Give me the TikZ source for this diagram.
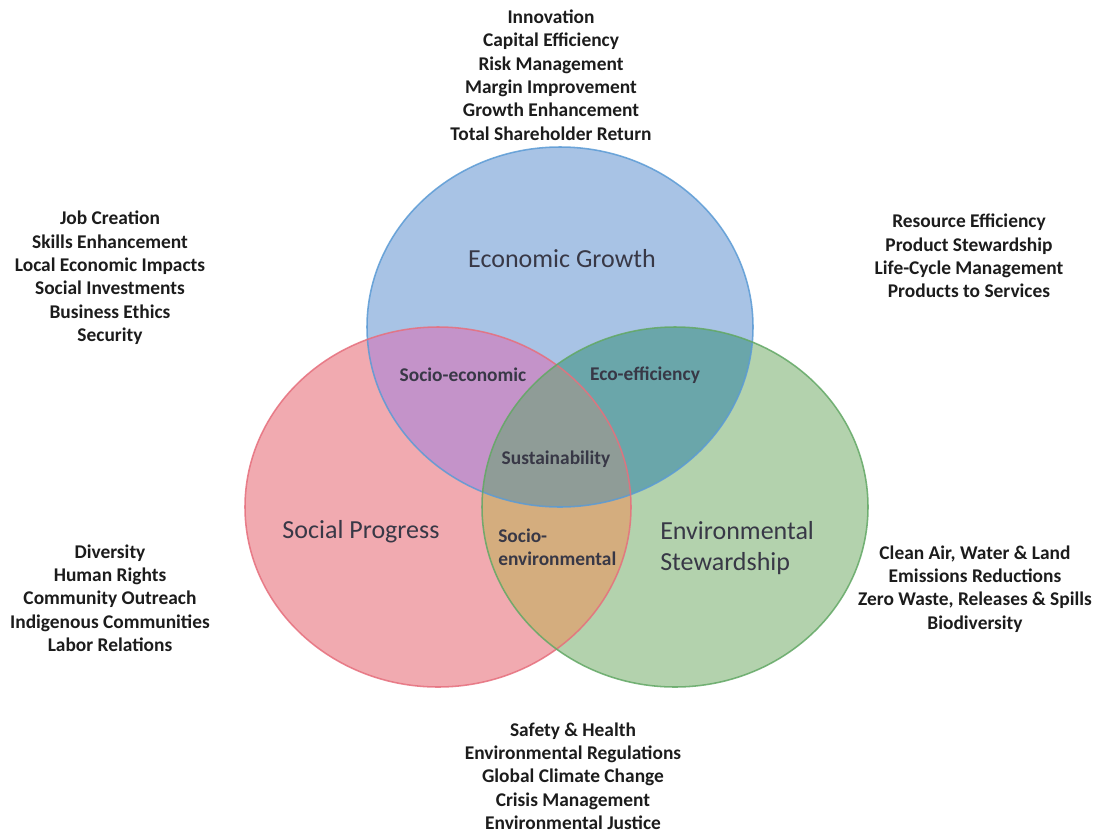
\documentclass[tikz,border=0pt]{standalone}
\usepackage{fontspec}
\setmainfont{Carlito}

% region fills
\definecolor{econfill}{HTML}{A8C3E5}
\definecolor{socialfill}{HTML}{F1AAB0}
\definecolor{envfill}{HTML}{B3D2AD}
\definecolor{socecofill}{HTML}{C493C9}
\definecolor{ecoefffill}{HTML}{6AA6AA}
\definecolor{socenvfill}{HTML}{D4AD7E}
\definecolor{sustfill}{HTML}{8F9C97}
% outlines and text
\definecolor{econline}{HTML}{5B9BD5}
\definecolor{socialline}{HTML}{E66F7D}
\definecolor{envline}{HTML}{62A865}
\definecolor{labelink}{HTML}{383846}
\definecolor{listink}{HTML}{1C1C1C}

\newcommand{\rx}{193}
\newcommand{\ry}{180}

\begin{document}
\begin{tikzpicture}[x=0.025cm, y=-0.025cm,
	listtext/.style={align=center, inner sep=0pt, text=listink,
		font=\fontsize{13.8}{16.6}\selectfont\bfseries},
	biglabel/.style={align=left, inner sep=0pt, text=labelink,
		font=\fontsize{18.5}{22}\selectfont},
	smalllabel/.style={align=left, inner sep=0pt, text=labelink,
		font=\fontsize{13.8}{16.6}\selectfont\bfseries}]

\useasboundingbox[fill=white] (0,0) rectangle (1099,837);

% Circle centres
\coordinate (Econ) at (560,327);
\coordinate (Social) at (438,507);
\coordinate (Env) at (675,507);

% Single circles
\fill[econfill] (Econ) ellipse [x radius=\rx, y radius=\ry];
\fill[socialfill] (Social) ellipse [x radius=\rx, y radius=\ry];
\fill[envfill] (Env) ellipse [x radius=\rx, y radius=\ry];

% Pairwise overlaps
\begin{scope}
	\clip (Econ) ellipse [x radius=\rx, y radius=\ry];
	\fill[socecofill] (Social) ellipse [x radius=\rx, y radius=\ry];
	\fill[ecoefffill] (Env) ellipse [x radius=\rx, y radius=\ry];
\end{scope}
\begin{scope}
	\clip (Social) ellipse [x radius=\rx, y radius=\ry];
	\fill[socenvfill] (Env) ellipse [x radius=\rx, y radius=\ry];
\end{scope}

% Centre overlap
\begin{scope}
	\clip (Econ) ellipse [x radius=\rx, y radius=\ry];
	\clip (Social) ellipse [x radius=\rx, y radius=\ry];
	\fill[sustfill] (Env) ellipse [x radius=\rx, y radius=\ry];
\end{scope}

% Outlines
\foreach \c/\col in {Econ/econline, Social/socialline, Env/envline}
{
	\draw[\col, line width=1.1pt, draw opacity=0.85]
		(\c) ellipse [x radius=\rx, y radius=\ry];
}

% Circle labels
\node[biglabel] (EconLabel) at (562,259) {Economic Growth};
\node[biglabel] (SocialLabel) at (361,532) {Social Progress};
\node[biglabel, anchor=west] (EnvLabel) at (660,548) {Environmental\\Stewardship};

% Overlap labels
\node[smalllabel] (SocEco) at (463,375) {Socio-economic};
\node[smalllabel] (EcoEff) at (645,375) {Eco-efficiency};
\node[smalllabel] (Sust) at (556,459) {Sustainability};
\node[smalllabel, anchor=west] (SocEnv) at (498,547) {Socio-\\environmental};

% Outer lists
\node[listtext] (EconList) at (551,75) {Innovation\\Capital Efficiency\\Risk Management\\
	Margin Improvement\\Growth Enhancement\\Total Shareholder Return};
\node[listtext] (SocialTop) at (110,278) {Job Creation\\Skills Enhancement\\
	Local Economic Impacts\\Social Investments\\Business Ethics\\Security};
\node[listtext] (EnvTop) at (969,256) {Resource Efficiency\\Product Stewardship\\
	Life-Cycle Management\\Products to Services};
\node[listtext] (SocialBottom) at (110,598) {Diversity\\Human Rights\\
	Community Outreach\\Indigenous Communities\\Labor Relations};
\node[listtext] (EnvBottom) at (975,589) {Clean Air, Water \& Land\\Emissions Reductions\\
	Zero Waste, Releases \& Spills\\Biodiversity};
\node[listtext] (SharedList) at (573,776) {Safety \& Health\\Environmental Regulations\\
	Global Climate Change\\Crisis Management\\Environmental Justice};

\end{tikzpicture}
\end{document}
